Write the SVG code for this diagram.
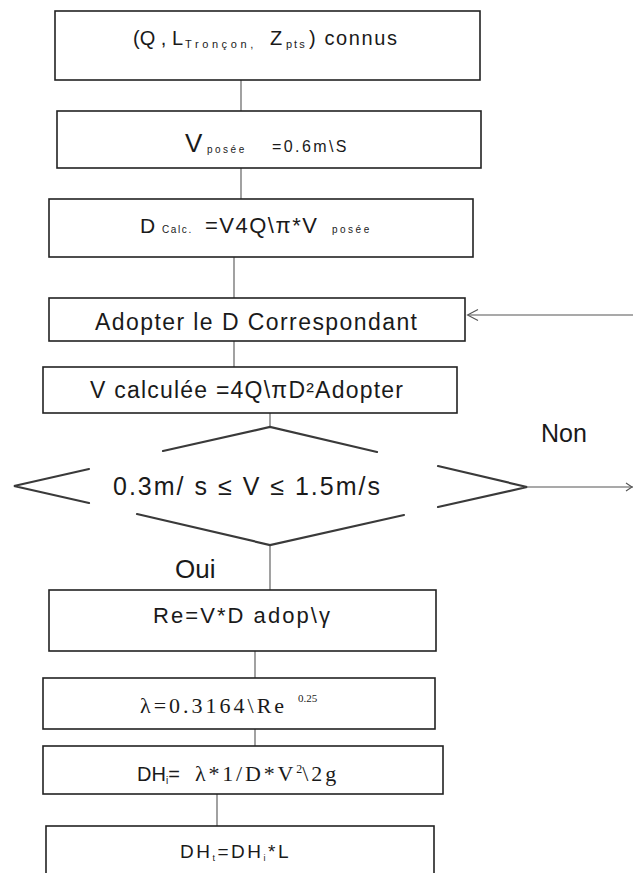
<svg xmlns="http://www.w3.org/2000/svg" width="633" height="873" viewBox="0 0 633 873">
<defs>
<style>
.box{fill:#fff;stroke:#222;stroke-width:1.6}
.dia{fill:none;stroke:#3a3a3a;stroke-width:2.2;stroke-linecap:round}
.con{fill:none;stroke:#555;stroke-width:1.1}
.sans{font-family:"Liberation Sans","DejaVu Sans",sans-serif;fill:#1a1a1a}
.serif{font-family:"Liberation Serif","DejaVu Serif",serif;fill:#1a1a1a}
</style>
</defs>
<rect width="633" height="873" fill="#fff"/>

<g id="connectors">
<line class="con" x1="241" y1="80" x2="241" y2="111"/>
<line class="con" x1="241" y1="168" x2="241" y2="199"/>
<line class="con" x1="234" y1="257" x2="234" y2="298"/>
<line class="con" x1="234" y1="341" x2="234" y2="367"/>
<line class="con" x1="270" y1="413" x2="270" y2="427"/>
<line class="con" x1="270" y1="545" x2="270" y2="590"/>
<line class="con" x1="255" y1="651" x2="255" y2="678"/>
<line class="con" x1="255" y1="729" x2="255" y2="746"/>
<line class="con" x1="217" y1="794" x2="217" y2="826"/>
<line class="con" x1="633" y1="315" x2="468" y2="315"/>
<path class="con" d="M478,309.5 L467.5,315 L478,320.5"/>
<line class="con" x1="527" y1="487" x2="633" y2="487" stroke-width="1.4"/>
<path class="con" d="M626,483 L632,487 L626,491"/>
</g>

<g id="n1">
<rect class="box" x="55" y="11" width="425" height="69"/>
<text class="sans" font-size="20" y="45"><tspan x="133">(Q , L</tspan><tspan x="185" font-size="11" dy="3" letter-spacing="3.6">Tronçon, </tspan><tspan x="270" dy="-3">Z</tspan><tspan x="286" font-size="11" dy="3" letter-spacing="2">pts</tspan><tspan x="309" dy="-3" letter-spacing="1.6">) connus</tspan></text>
</g>

<g id="n2">
<rect class="box" x="57" y="111" width="424" height="57"/>
<text class="sans" font-size="26" y="152"><tspan x="185">V </tspan><tspan x="207" font-size="10" dy="1" letter-spacing="2.5">posée </tspan><tspan x="272" font-size="16" dy="-1" letter-spacing="2.4">=0.6m\S</tspan></text>
</g>

<g id="n3">
<rect class="box" x="49" y="199" width="424" height="58"/>
<text class="sans" font-size="21" y="233"><tspan x="140">D </tspan><tspan x="162" font-size="10" letter-spacing="1.6">Calc.</tspan><tspan x="205" font-size="22" letter-spacing="1.5">=V4Q\π*V </tspan><tspan x="332" font-size="10" letter-spacing="2.5">posée</tspan></text>
</g>

<g id="n4">
<rect class="box" x="49" y="298" width="416" height="43"/>
<text class="sans" font-size="23" x="95" y="330" textLength="322">Adopter le D Correspondant</text>
</g>

<g id="n5">
<rect class="box" x="43" y="367" width="414" height="46"/>
<text class="sans" font-size="23" x="90" y="398" textLength="313">V calculée =4Q\πD²Adopter</text>
</g>

<g id="n6">
<path class="dia" d="M163,451 L270,427 L377,452 M438,466 L527,487 L438,507 M404,515 L270,545 L137,514 M89,503 L14,486 L89,469"/>
<text class="sans" font-size="25" x="113" y="495" textLength="267">0.3m/ s ≤ V ≤ 1.5m/s</text>
</g>

<g id="lbl-non">
<text class="sans" font-size="25" x="541" y="442">Non</text>
</g>
<g id="lbl-oui">
<text class="sans" font-size="26" x="175" y="578">Oui</text>
</g>

<g id="n7">
<rect class="box" x="49" y="590" width="387" height="61"/>
<text class="sans" font-size="22" x="153" y="623" textLength="177">Re=V*D adop\γ</text>
</g>

<g id="n8">
<rect class="box" x="43" y="678" width="392" height="51"/>
<text class="serif" font-size="22" y="713"><tspan x="140" letter-spacing="3">λ=0.3164\Re </tspan><tspan x="298" font-size="11" dy="-11">0.25</tspan></text>
</g>

<g id="n9">
<rect class="box" x="43" y="746" width="400" height="48"/>
<text y="781"><tspan class="sans" x="137" font-size="20">DH</tspan><tspan class="sans" font-size="10" dy="3">i</tspan><tspan class="sans" font-size="20" dy="-3">= </tspan><tspan class="serif" x="195" font-size="22" letter-spacing="2.8">λ*1/D*V</tspan><tspan class="serif" font-size="12" dy="-8">2</tspan><tspan class="serif" font-size="22" dy="8" letter-spacing="3">\2g</tspan></text>
</g>

<g id="n10">
<rect class="box" x="46" y="826" width="388" height="60"/>
<text class="sans" font-size="19" y="858" letter-spacing="2.5"><tspan x="180">DH</tspan><tspan font-size="9" dy="3">t</tspan><tspan dy="-3">=DH</tspan><tspan font-size="9" dy="3">i</tspan><tspan dy="-3">*L</tspan></text>
</g>
</svg>
